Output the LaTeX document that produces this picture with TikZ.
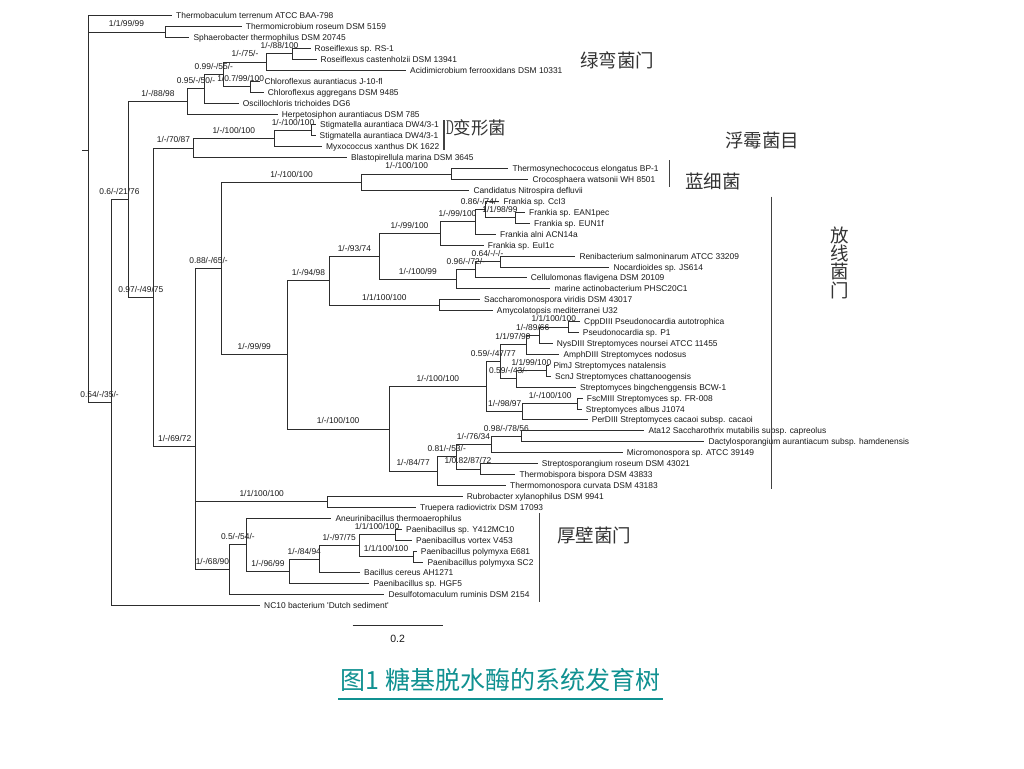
\documentclass[tikz,border=0pt]{standalone}
\usepackage{fontspec}
\usepackage{graphicx}
\setmainfont{Liberation Sans}
\newfontfamily\cjk{Noto Sans CJK SC}
\newfontfamily\serifD{Liberation Serif}
\usetikzlibrary{calc}
\definecolor{titlecol}{RGB}{16,145,145}
\definecolor{linecol}{RGB}{45,45,45}
\definecolor{txtcol}{RGB}{25,25,25}
\newcommand\lf{\fontsize{8.4}{10}\selectfont}
\newcommand\tbr[4][]{\draw[branch] (#2) |- (#3);
  \path (#3 -| #2) -- node[lab,#1]{#4} (#3);}
\newcommand\tleaf[2]{\draw[branch] (#1) |- (#2.west);}
\begin{document}
\begin{tikzpicture}[x=1pt,y=-1pt,
  branch/.style={draw=linecol, line width=1pt},
  leaf/.style={anchor=west, inner xsep=4pt, inner ysep=0pt, text height=6pt, text depth=0pt, font=\lf, text=txtcol},
  lab/.style={anchor=south, inner sep=0pt, text height=6pt, text depth=0pt, yshift=5pt, font=\lf, text=txtcol},
  bar/.style={draw=linecol!90, line width=1.3pt},
  cjklab/.style={font=\cjk\fontsize{18.5}{18.3}\selectfont, text=black!80, inner sep=0pt}]
\useasboundingbox (0,0) rectangle (1024,768);
\fill[white] (0,0) rectangle (1024,768);

% internal nodes
\coordinate (Rs) at (82,150.12);
\coordinate (R) at (88,150.12);
\coordinate (n1199) at (165,32.09);
\coordinate (n054) at (111,402.58);
\coordinate (nA) at (128,199.45);
\coordinate (n88) at (187.7,101.40);
\coordinate (n095) at (204.3,88.77);
\coordinate (n099) at (223.3,74.43);
\coordinate (n75) at (266.7,62.14);
\coordinate (nRos) at (292.3,53.94);
\coordinate (nChl) at (250,86.72);
\coordinate (nC) at (153.7,297.49);
\coordinate (n70) at (193.3,148.18);
\coordinate (nMyx) at (274.3,138.62);
\coordinate (nStig) at (311.7,130.43);
\coordinate (n69) at (195.7,446.80);
\coordinate (nD) at (221.3,268.63);
\coordinate (nCya) at (361.7,182.32);
\coordinate (nCya2) at (451.7,174.13);
\coordinate (n99) at (287.3,354.93);
\coordinate (n94) at (329.7,280.83);
\coordinate (n93) at (379,256.42);
\coordinate (nF1) at (440,233.54);
\coordinate (nF2) at (475,221.93);
\coordinate (nF3) at (485,209.64);
\coordinate (nF4) at (515,217.83);
\coordinate (nR1) at (456.7,279.29);
\coordinate (nR2) at (475,269.73);
\coordinate (nR3) at (500,261.54);
\coordinate (nSac) at (439,305.24);
\coordinate (nX) at (389,429.02);
\coordinate (nSt) at (486.7,386.85);
\coordinate (nP1) at (500,361.92);
\coordinate (nP2) at (526,344.85);
\coordinate (nP3) at (539.3,335.29);
\coordinate (nP4) at (568.3,327.09);
\coordinate (nS2) at (516.7,378.99);
\coordinate (nS3) at (546,370.80);
\coordinate (nFs1) at (522.7,411.77);
\coordinate (nFs2) at (577.7,403.58);
\coordinate (nT0) at (437.3,471.18);
\coordinate (nT1) at (456,456.84);
\coordinate (nA1) at (491,444.55);
\coordinate (nA2) at (521.7,436.35);
\coordinate (nT2) at (480,469.13);
\coordinate (nRub) at (327.7,501.91);
\coordinate (n68) at (229,569.85);
\coordinate (n05) at (246.7,544.93);
\coordinate (n96) at (289.3,571.56);
\coordinate (n84) at (319.3,559.27);
\coordinate (n97) at (359,545.61);
\coordinate (nPa1) at (395,534.69);
\coordinate (nPa2) at (413.3,556.54);

% leaves
\node[leaf] (L1) at (172,15.70) {Thermobaculum terrenum ATCC BAA-798};
\node[leaf] (L2) at (241.7,26.63) {Thermomicrobium roseum DSM 5159};
\node[leaf] (L3) at (189.3,37.55) {Sphaerobacter thermophilus DSM 20745};
\node[leaf] (L4) at (310.5,48.48) {Roseiflexus sp. RS-1};
\node[leaf] (L5) at (316.5,59.40) {Roseiflexus castenholzii DSM 13941};
\node[leaf] (L6) at (406,70.33) {Acidimicrobium ferrooxidans DSM 10331};
\node[leaf] (L7) at (260.3,81.26) {Chloroflexus aurantiacus J-10-fl};
\node[leaf] (L8) at (263.7,92.18) {Chloroflexus aggregans DSM 9485};
\node[leaf] (L9) at (238.7,103.11) {Oscillochloris trichoides DG6};
\node[leaf] (L10) at (277.7,114.03) {Herpetosiphon aurantiacus DSM 785};
\node[leaf] (L11) at (316,124.96) {Stigmatella aurantiaca DW4/3-1};
\node[leaf] (L12) at (315.5,135.89) {Stigmatella aurantiaca DW4/3-1};
\node[leaf] (L13) at (322,146.81) {Myxococcus xanthus DK 1622};
\node[leaf] (L14) at (347,157.74) {Blastopirellula marina DSM 3645};
\node[leaf] (L15) at (508.3,168.66) {Thermosynechococcus elongatus BP-1};
\node[leaf] (L16) at (528.3,179.59) {Crocosphaera watsonii WH 8501};
\node[leaf] (L17) at (469.3,190.52) {Candidatus Nitrospira defluvii};
\node[leaf] (L18) at (499.3,201.44) {Frankia sp. CcI3};
\node[leaf] (L19) at (525,212.37) {Frankia sp. EAN1pec};
\node[leaf] (L20) at (530,223.29) {Frankia sp. EUN1f};
\node[leaf] (L21) at (496,234.22) {Frankia alni ACN14a};
\node[leaf] (L22) at (483.7,245.15) {Frankia sp. EuI1c};
\node[leaf] (L23) at (575.3,256.07) {Renibacterium salmoninarum ATCC 33209};
\node[leaf] (L24) at (609.3,267.00) {Nocardioides sp. JS614};
\node[leaf] (L25) at (526.7,277.92) {Cellulomonas flavigena DSM 20109};
\node[leaf] (L26) at (550.3,288.85) {marine actinobacterium PHSC20C1};
\node[leaf] (L27) at (480,299.78) {Saccharomonospora viridis DSM 43017};
\node[leaf] (L28) at (492.7,310.70) {Amycolatopsis mediterranei U32};
\node[leaf] (L29) at (580,321.63) {CppDIII Pseudonocardia autotrophica};
\node[leaf] (L30) at (578.7,332.55) {Pseudonocardia sp. P1};
\node[leaf] (L31) at (552.7,343.48) {NysDIII Streptomyces noursei ATCC 11455};
\node[leaf] (L32) at (559.3,354.41) {AmphDIII Streptomyces nodosus};
\node[leaf] (L33) at (549.3,365.33) {PimJ Streptomyces natalensis};
\node[leaf] (L34) at (551,376.26) {ScnJ Streptomyces chattanoogensis};
\node[leaf] (L35) at (576,387.18) {Streptomyces bingchenggensis BCW-1};
\node[leaf] (L36) at (582.7,398.11) {FscMIII Streptomyces sp. FR-008};
\node[leaf] (L37) at (581.7,409.04) {Streptomyces albus J1074};
\node[leaf] (L38) at (587.7,419.96) {PerDIII Streptomyces cacaoi subsp. cacaoi};
\node[leaf] (L39) at (644.3,430.89) {Ata12 Saccharothrix mutabilis subsp. capreolus};
\begin{scope}
\clip (0,0) rectangle (917,768);
\node[leaf] (L40) at (704.3,441.81) {Dactylosporangium aurantiacum subsp. hamdenensis};
\end{scope}
\node[leaf] (L41) at (622.7,452.74) {Micromonospora sp. ATCC 39149};
\node[leaf] (L42) at (537.7,463.67) {Streptosporangium roseum DSM 43021};
\node[leaf] (L43) at (515.3,474.59) {Thermobispora bispora DSM 43833};
\node[leaf] (L44) at (506,485.52) {Thermomonospora curvata DSM 43183};
\node[leaf] (L45) at (462.7,496.44) {Rubrobacter xylanophilus DSM 9941};
\node[leaf] (L46) at (416,507.37) {Truepera radiovictrix DSM 17093};
\node[leaf] (L47) at (331.3,518.30) {Aneurinibacillus thermoaerophilus};
\node[leaf] (L48) at (402,529.22) {Paenibacillus sp. Y412MC10};
\node[leaf] (L49) at (412,540.15) {Paenibacillus vortex V453};
\node[leaf] (L50) at (416.7,551.07) {Paenibacillus polymyxa E681};
\node[leaf] (L51) at (423.3,562.00) {Paenibacillus polymyxa SC2};
\node[leaf] (L52) at (360,572.93) {Bacillus cereus AH1271};
\node[leaf] (L53) at (369.3,583.85) {Paenibacillus sp. HGF5};
\node[leaf] (L54) at (384.3,594.78) {Desulfotomaculum ruminis DSM 2154};
\node[leaf] (L55) at (260,605.70) {NC10 bacterium \textquotesingle Dutch sediment\textquotesingle};

% branches
\draw[branch] (Rs) -- (R);
\tleaf{R}{L1}
\tbr{R}{n1199}{1/1/99/99}
\tbr{R}{n054}{0.54/-/35/-}
\tleaf{n1199}{L2} \tleaf{n1199}{L3}
\tbr{n054}{nA}{0.6/-/21/76}
\tleaf{n054}{L55}
\tbr{nA}{n88}{1/-/88/98}
\tbr{nA}{nC}{0.97/-/49/75}
\tbr{n88}{n095}{0.95/-/50/-}
\tleaf{n88}{L10}
\tbr{n095}{n099}{0.99/-/55/-}
\tleaf{n095}{L9}
\tbr{n099}{n75}{1/-/75/-}
\tbr[xshift=4pt]{n099}{nChl}{1/0.7/99/100}
\tbr{n75}{nRos}{1/-/88/100}
\tleaf{n75}{L6}
\tleaf{nRos}{L4} \tleaf{nRos}{L5}
\tleaf{nChl}{L7} \tleaf{nChl}{L8}
\tbr{nC}{n70}{1/-/70/87}
\tbr{nC}{n69}{1/-/69/72}
\tbr{n70}{nMyx}{1/-/100/100}
\tleaf{n70}{L14}
\tbr{nMyx}{nStig}{1/-/100/100}
\tleaf{nMyx}{L13}
\tleaf{nStig}{L11} \tleaf{nStig}{L12}
\tbr{n69}{nD}{0.88/-/65/-}
\tbr{n69}{nRub}{1/1/100/100}
\tbr{n69}{n68}{1/-/68/90}
\tbr{nD}{nCya}{1/-/100/100}
\tbr{nD}{n99}{1/-/99/99}
\tbr{nCya}{nCya2}{1/-/100/100}
\tleaf{nCya}{L17}
\tleaf{nCya2}{L15} \tleaf{nCya2}{L16}
\tbr{n99}{n94}{1/-/94/98}
\tbr{n99}{nX}{1/-/100/100}
\tbr{n94}{n93}{1/-/93/74}
\tbr{n94}{nSac}{1/1/100/100}
\tbr{n93}{nF1}{1/-/99/100}
\tbr{n93}{nR1}{1/-/100/99}
\tbr{nF1}{nF2}{1/-/99/100}
\tleaf{nF1}{L22}
\tbr{nF2}{nF3}{0.86/-/74/-}
\tleaf{nF2}{L21}
\tleaf{nF3}{L18}
\tbr{nF3}{nF4}{1/1/98/99}
\tleaf{nF4}{L19} \tleaf{nF4}{L20}
\tbr{nR1}{nR2}{0.96/-/72/-}
\tleaf{nR1}{L26}
\tbr{nR2}{nR3}{0.64/-/-/-}
\tleaf{nR2}{L25}
\tleaf{nR3}{L23} \tleaf{nR3}{L24}
\tleaf{nSac}{L27} \tleaf{nSac}{L28}
\tbr{nX}{nSt}{1/-/100/100}
\tbr{nX}{nT0}{1/-/84/77}
\tbr{nSt}{nP1}{0.59/-/47/77}
\tbr{nSt}{nFs1}{1/-/98/97}
\tbr{nP1}{nP2}{1/1/97/99}
\tbr{nP1}{nS2}{0.59/-/43/-}
\tbr{nP2}{nP3}{1/-/89/66}
\tleaf{nP2}{L32}
\tbr{nP3}{nP4}{1/1/100/100}
\tleaf{nP3}{L31}
\tleaf{nP4}{L29} \tleaf{nP4}{L30}
\tbr{nS2}{nS3}{1/1/99/100}
\tleaf{nS2}{L35}
\tleaf{nS3}{L33} \tleaf{nS3}{L34}
\tbr{nFs1}{nFs2}{1/-/100/100}
\tleaf{nFs1}{L38}
\tleaf{nFs2}{L36} \tleaf{nFs2}{L37}
\tbr{nT0}{nT1}{0.81/-/53/-}
\tleaf{nT0}{L44}
\tbr{nT1}{nA1}{1/-/76/34}
\tbr{nT1}{nT2}{1/0.82/87/72}
\tbr{nA1}{nA2}{0.98/-/78/56}
\tleaf{nA1}{L41}
\tleaf{nA2}{L39} \tleaf{nA2}{L40}
\tleaf{nT2}{L42} \tleaf{nT2}{L43}
\tleaf{nRub}{L45} \tleaf{nRub}{L46}
\tbr{n68}{n05}{0.5/-/54/-}
\tleaf{n68}{L54}
\tleaf{n05}{L47}
\tbr{n05}{n96}{1/-/96/99}
\tbr{n96}{n84}{1/-/84/94}
\tleaf{n96}{L53}
\tbr{n84}{n97}{1/-/97/75}
\tleaf{n84}{L52}
\tbr{n97}{nPa1}{1/1/100/100}
\tbr{n97}{nPa2}{1/1/100/100}
\tleaf{nPa1}{L48} \tleaf{nPa1}{L49}
\tleaf{nPa2}{L50} \tleaf{nPa2}{L51}

% group bars
\coordinate (bD1) at (444,120); \coordinate (bD2) at (444,150);
\draw[bar] (bD1) -- (bD2);
\coordinate (bC1) at (669.3,160); \coordinate (bC2) at (669.3,187.3);
\draw[bar] (bC1) -- (bC2);
\coordinate (bA1) at (771.7,196.7); \coordinate (bA2) at (771.7,489.3);
\draw[bar] (bA1) -- (bA2);
\coordinate (bF1) at (539.3,513.3); \coordinate (bF2) at (539.3,601.7);
\draw[bar] (bF1) -- (bF2);

% group names
\node[cjklab, anchor=west] (tChl) at (580,60) {绿弯菌门};
\node[anchor=west, inner sep=0pt, text=black!80] (tDp) at (446,128) {\scalebox{0.5}[1]{\serifD\fontsize{21}{22}\selectfont D}{\cjk\fontsize{17.5}{18}\selectfont 变形菌}};
\node[cjklab, anchor=west] (tPla) at (725,140) {浮霉菌目};
\node[cjklab, anchor=west] (tCya) at (685,181) {蓝细菌};
\node[cjklab, align=center] (tAct) at (840,262.7) {放\\线\\菌\\门};
\node[cjklab, anchor=west] (tFir) at (557,535) {厚壁菌门};

% scale bar
\coordinate (s1) at (352.7,625.7); \coordinate (s2) at (442.7,625.7);
\draw[branch] (s1) -- (s2);
\node[font=\fontsize{10.5}{12}\selectfont, text=txtcol, inner sep=0pt] (sLab) at (397.7,639) {0.2};

% title
\node[font=\cjk\fontsize{25}{28}\selectfont, text=titlecol, inner sep=0pt] (title) at (500.5,680) {图1 糖基脱水酶的系统发育树};
\coordinate (u1) at (338,699); \coordinate (u2) at (663,699);
\draw[titlecol, line width=1.3pt] (u1) -- (u2);
\end{tikzpicture}
\end{document}
